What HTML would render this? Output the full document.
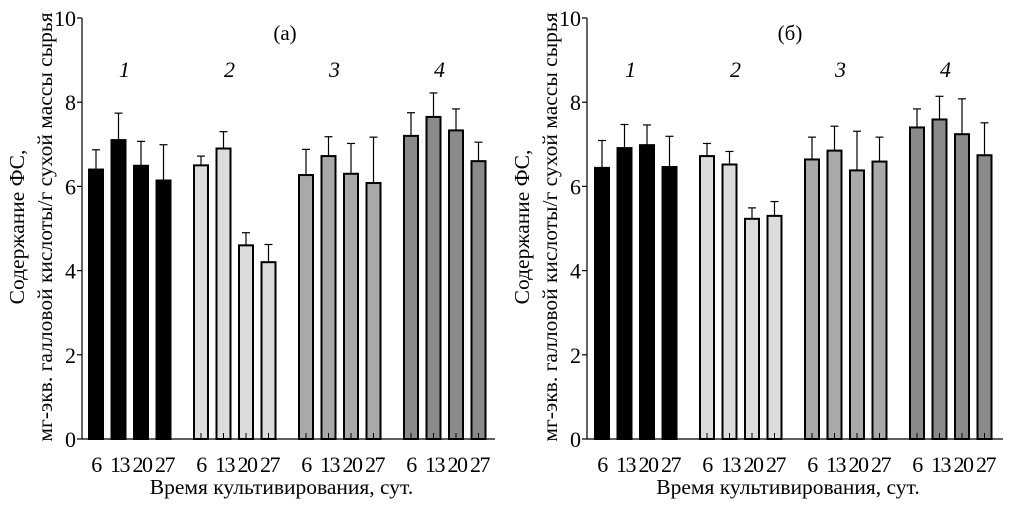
<!DOCTYPE html>
<html><head><meta charset="utf-8"><style>
html,body{margin:0;padding:0;background:#fff}
svg{display:block;font-family:"Liberation Serif","DejaVu Serif",serif}
</style></head><body>
<svg id="c" width="1020" height="506" viewBox="0 0 1020 506" xmlns="http://www.w3.org/2000/svg"></svg>
<script>
const days = ["6","13","20","27"];
const groups = ["1","2","3","4"];
const groupColors = ["#000000","#dcdcdc","#a9a9a9","#8a8a8a"];
const yTicks = [0,2,4,6,8,10];
const valuesA = [[6.40,7.10,6.49,6.14],[6.50,6.90,4.60,4.20],[6.27,6.72,6.30,6.08],[7.20,7.65,7.33,6.60]];
const errTopA = [[6.87,7.74,7.07,6.99],[6.72,7.30,4.90,4.62],[6.88,7.18,7.02,7.17],[7.75,8.22,7.84,7.05]];
const valuesB = [[6.44,6.91,6.98,6.46],[6.72,6.52,5.23,5.30],[6.64,6.85,6.38,6.59],[7.40,7.59,7.24,6.74]];
const errTopB = [[7.09,7.47,7.46,7.19],[7.02,6.83,5.49,5.64],[7.17,7.43,7.31,7.17],[7.84,8.14,8.08,7.51]];

const NS="http://www.w3.org/2000/svg";
const svg=document.getElementById('c');
function mk(tag,attrs,parent,text){const e=document.createElementNS(NS,tag);for(const k in attrs)e.setAttribute(k,attrs[k]);if(text!==undefined)e.textContent=text;(parent||svg).appendChild(e);return e;}

function panel(id,ax,axEnd,firstBar,title,vals,errs){
  const g=mk('g',{});
  
  
  const y0=439, y10=18;
  const y=v=>y0-(y0-y10)*v/10;
  const bw=14, step=22.5, gstep=105;
  const x=(gi,di)=>firstBar+gi*gstep+di*step;
  const yax=mk('line',{x1:ax,y1:y10,x2:ax,y2:y0,stroke:'#000','stroke-width':1.2},g);
  
  
  const xax=mk('line',{x1:ax,y1:y0,x2:axEnd,y2:y0,stroke:'#000','stroke-width':1.2},g);
  
  
  yTicks.forEach(t=>{
    mk('line',{x1:ax-5,y1:y(t),x2:ax,y2:y(t),stroke:'#000','stroke-width':1.2},g);
    const tl=mk('text',{x:ax-6,y:y(t)+8,'text-anchor':'end','font-size':22},g,String(t));
    
    
  });
  vals.forEach((row,gi)=>{
    row.forEach((v,di)=>{
      const bx=x(gi,di);
      const e=errs[gi][di];
      const cx=bx+bw/2;
      const el=mk('line',{x1:cx,y1:y(e),x2:cx,y2:y(v),stroke:'#000','stroke-width':1.2},g);
      
      
      mk('line',{x1:cx-4,y1:y(e),x2:cx+4,y2:y(e),stroke:'#000','stroke-width':1.2},g);
      const r=mk('rect',{x:bx,y:y(v),width:bw,height:y0-y(v),fill:groupColors[gi],stroke:'#000','stroke-width':2},g);
      
      
      if(gi>0) mk('line',{x1:cx,y1:y0-6,x2:cx,y2:y0,stroke:'#000','stroke-width':1},g);
      const lx=(di===0)?cx:cx+1;
      const xl=mk('text',{x:lx,y:472,'text-anchor':'middle','font-size':22,'letter-spacing':'-1.5'},g,days[di]);
      
      
    });
    const gl=mk('text',{x:x(gi,1)+bw/2+6,y:77,'text-anchor':'middle','font-size':22,'font-style':'italic'},g,groups[gi]);
    
    
  });
  const tt=mk('text',{x:ax+203,y:40,'text-anchor':'middle','font-size':21},g,title);
  
  
  const xt=mk('text',{x:(ax+axEnd)/2-7,y:494,'text-anchor':'middle','font-size':21.5},g,'Время культивирования, сут.');
  
  
  const cy=227;
  const t1=mk('text',{x:0,y:0,'text-anchor':'middle','font-size':21.5,transform:`translate(${ax-58},${cy}) rotate(-90)`},g,'Содержание ФС,');
  
  
  const t2=mk('text',{x:0,y:0,'text-anchor':'middle','font-size':21.5,transform:`translate(${ax-30},${cy}) rotate(-90)`},g,'мг-экв. галловой кислоты/г сухой массы сырья');
  
  
}
panel('a',82,495,89,'(a)',valuesA,errTopA);
panel('b',587,1003,595,'(б)',valuesB,errTopB);
</script>
</body></html>
